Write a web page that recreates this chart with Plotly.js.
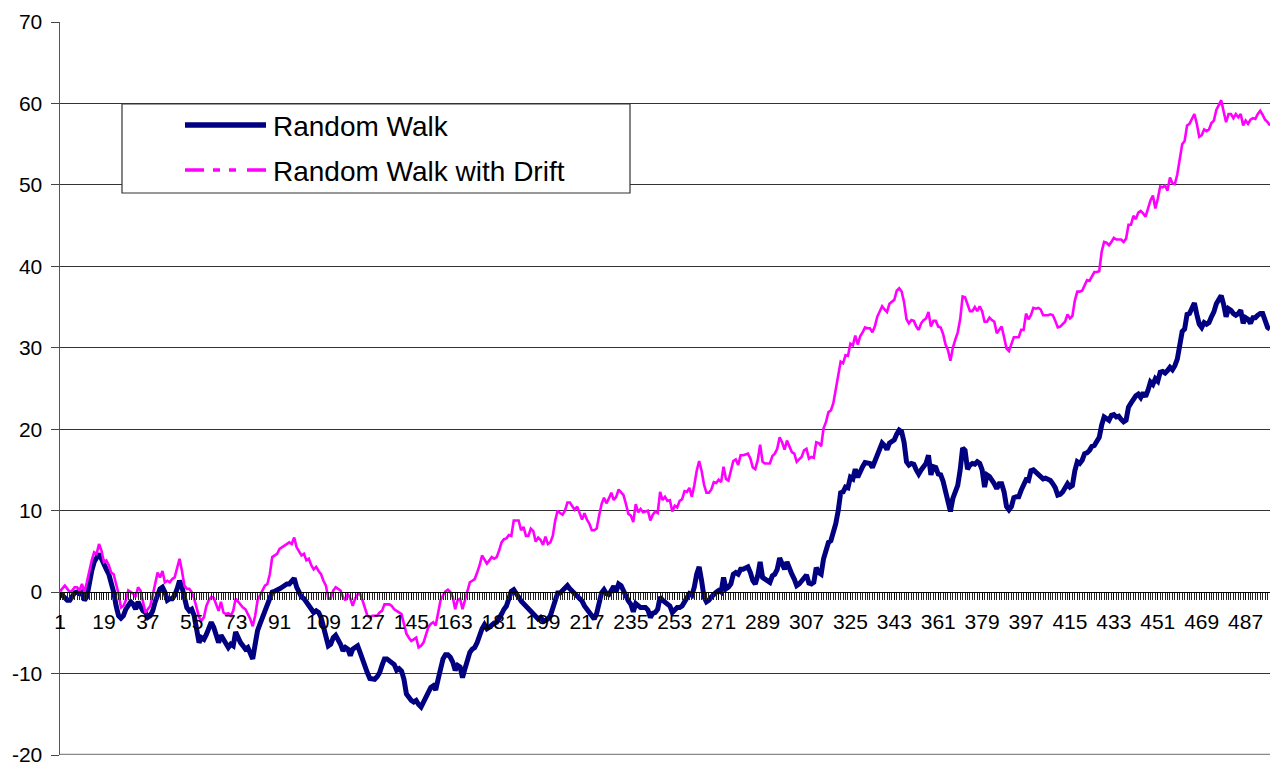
<!DOCTYPE html>
<html>
<head>
<meta charset="utf-8">
<script src="https://cdn.plot.ly/plotly-3.0.1.min.js"></script>
<style>
  html, body { margin: 0; padding: 0; background: #ffffff; }
  #chart { width: 1270px; height: 765px; }
</style>
</head>
<body>
<div id="chart"></div>
<script>
// Series values (one value per category 1..497)
const randomWalk = [
  -0.1,-0.4,-0.8,-1.0,-1.0,-0.6,-0.1,0,-0.2,0,
  -1.0,-0.6,1.2,2.6,3.7,4.3,4.7,4.1,3.3,2.8,
  2.2,1.2,0,-1.7,-2.9,-3.2,-2.9,-2.1,-1.7,-1.2,
  -1.5,-2.1,-1.2,-1.7,-2.3,-2.5,-3.1,-2.9,-2.3,-1.2,
  -0.2,0.4,0.6,0,-1.0,-0.8,-0.8,-0.4,0.4,1.4,
  0.6,-0.8,-1.9,-2.3,-2.1,-2.9,-4.7,-6.2,-5.6,-5.8,
  -5.2,-4.3,-3.7,-4.3,-5.3,-6.2,-5.3,-5.8,-6.4,-6.8,
  -6.4,-6.6,-4.9,-5.6,-6.2,-6.6,-7.0,-6.8,-7.4,-8.2,
  -6.4,-4.7,-3.9,-3.1,-2.3,-1.5,-0.4,0,0.1,0.2,
  0.4,0.6,0.8,1.0,1.0,1.4,1.7,0.6,0,-0.6,
  -0.8,-1.2,-1.5,-2.1,-2.5,-2.3,-2.5,-3.1,-4.1,-5.1,
  -6.6,-6.4,-5.6,-5.3,-5.8,-6.4,-7.2,-6.8,-7.0,-7.8,
  -7.0,-6.8,-6.6,-7.4,-8.4,-9.2,-9.9,-10.6,-10.7,-10.7,
  -10.4,-9.9,-9.0,-8.2,-8.2,-8.4,-8.6,-8.9,-9.6,-9.4,
  -9.7,-10.7,-12.5,-13.0,-13.3,-13.5,-13.3,-13.8,-14.1,-13.5,
  -12.9,-12.3,-11.7,-11.5,-12.0,-10.7,-9.4,-8.2,-7.7,-7.7,
  -8.0,-8.6,-9.6,-9.0,-9.2,-10.5,-9.4,-8.4,-7.4,-7.0,
  -6.8,-6.2,-5.3,-4.5,-4.0,-4.5,-4.3,-4.0,-3.8,-3.7,
  -3.3,-2.7,-2.1,-1.7,-0.8,0.1,0.3,-0.3,-0.6,-1.1,
  -1.4,-1.9,-2.1,-2.3,-2.6,-3.1,-3.3,-3.1,-3.5,-3.5,
  -3.3,-2.9,-1.9,-0.6,-0.1,-0.1,0.2,0.7,0.8,0.4,
  0.1,-0.2,-0.4,-0.6,-1.1,-1.7,-2.1,-2.5,-3.1,-3.3,
  -2.6,-1.4,-0.1,0.3,-0.2,-0.3,0.3,0.7,0.1,1.0,
  0.8,0.1,-0.4,-1.1,-1.5,-2.4,-1.4,-1.7,-1.9,-1.9,
  -1.9,-2.2,-3.1,-2.6,-2.5,-2.1,-0.6,-1.0,-1.2,-1.5,
  -1.7,-2.5,-2.1,-1.9,-1.9,-1.7,-1.2,-0.6,-0.2,-0.4,
  0.6,2.2,3.1,1.4,-0.6,-1.2,-1.0,-0.6,-0.2,0,
  0.2,0,1.8,0.4,0.6,1.0,2.2,2.4,2.2,2.8,
  2.8,3.0,3.1,2.4,1.4,1.0,2.0,3.7,1.8,1.6,
  1.4,1.2,2.0,2.2,2.8,4.2,3.5,2.8,3.7,2.8,
  2.2,1.6,0.8,1.0,1.4,1.8,2.1,1.1,1.0,1.2,
  3.0,2.4,2.2,4.1,5.3,6.1,6.3,7.2,8.4,10.0,
  12.2,12.3,12.9,12.8,14.1,13.9,15.1,14.1,14.9,15.4,
  15.9,15.8,15.8,15.3,16.1,16.9,17.8,18.3,18.0,17.5,
  18.3,18.5,18.7,19.4,19.9,19.7,18.4,16.0,15.6,15.8,
  15.7,15.0,14.5,15.0,15.3,15.8,16.8,14.4,15.4,15.3,
  14.5,14.4,13.6,12.3,11.0,9.9,11.5,12.2,13.1,15.0,
  17.7,17.4,15.1,15.6,15.8,15.7,16.0,15.8,15.0,12.9,
  14.4,14.2,13.8,13.3,12.7,13.3,13.3,12.3,10.5,10.1,
  10.5,11.6,11.7,11.7,12.5,13.3,13.8,13.7,14.9,15.0,
  14.7,14.6,14.1,13.9,14.0,13.8,13.7,13.3,12.8,11.9,
  12.0,12.3,12.9,13.3,12.9,13.1,14.9,16.0,15.8,16.2,
  17.0,17.1,17.4,17.9,18.0,18.6,19.0,20.5,21.5,21.3,
  21.1,21.7,21.8,21.5,21.6,21.2,20.9,21.1,22.7,23.2,
  23.7,24.1,24.3,23.9,24.5,24.0,24.8,25.8,25.5,26.2,
  25.9,27.0,27.1,26.9,27.2,27.6,27.3,27.8,28.6,30.2,
  32.0,32.3,34.1,34.2,34.8,35.5,34.1,32.9,32.5,33.1,
  32.9,33.1,33.8,34.4,35.4,36.0,36.4,35.3,33.8,34.8,
  34.6,34.2,34.0,34.2,34.6,33.0,33.7,33.5,33.0,33.7,
  33.7,34.0,34.2,34.2,33.5,32.5,32.3
];

const randomWalkDrift = [
  0.1,0.4,0.8,0.4,0,0.2,0.6,0.6,0.2,1.0,
  0,1.2,2.6,3.9,4.9,4.7,5.9,5.1,3.7,3.9,
  3.3,2.4,2.2,1.0,-0.2,-1.9,-1.7,-1.0,0.2,0,
  -0.2,-0.6,0.6,0.2,-1.0,-2.5,-2.1,-1.7,-0.4,1.0,
  2.4,1.8,2.6,1.2,1.4,1.2,1.6,1.8,3.1,4.1,
  2.6,0.8,0.4,0.4,0,-0.8,-1.9,-3.1,-3.5,-3.1,
  -1.7,-1.0,-0.6,-0.7,-1.5,-2.3,-1.2,-2.5,-2.7,-2.6,
  -2.9,-2.3,-0.8,-1.2,-1.5,-1.9,-2.1,-2.7,-3.3,-4.2,
  -2.9,-1.0,-0.4,0.4,0.8,1.0,2.2,4.3,4.5,4.7,
  5.3,5.5,5.7,5.9,6.1,5.9,6.7,5.5,4.9,4.5,
  4.7,3.9,4.1,3.3,2.8,3.1,2.6,2.2,1.4,0.8,
  -0.8,-0.8,0.2,0.6,0.4,0.2,-0.6,-1.0,-0.2,-0.8,
  -1.7,-0.8,-0.3,-0.2,-1.0,-2.1,-2.9,-3.1,-2.9,-2.9,
  -2.9,-2.5,-2.3,-1.5,-1.5,-1.5,-1.7,-2.1,-2.3,-2.5,
  -2.7,-3.9,-5.1,-5.6,-6.0,-5.8,-5.6,-6.8,-6.6,-6.2,
  -5.3,-4.3,-3.9,-3.7,-4.1,-2.3,-1.0,-0.4,0.1,0.3,
  0,-0.6,-2.1,-1.0,-0.8,-2.1,-1.0,0.2,1.2,1.4,
  1.6,2.4,3.3,4.5,3.9,3.5,3.9,4.3,4.1,4.3,
  5.1,6.1,6.5,6.6,7.0,6.9,8.8,8.8,8.8,7.6,
  8.0,6.9,6.9,7.8,7.5,6.2,6.7,6.4,5.8,6.8,
  5.9,6.1,6.9,8.8,10.0,9.7,9.5,10.0,11.0,11.0,
  10.5,10.1,10.5,9.8,8.9,9.7,8.9,8.4,7.6,7.6,
  7.8,9.4,10.8,11.6,10.9,11.5,12.2,11.3,11.7,12.6,
  12.2,11.9,10.8,9.6,9.4,8.6,10.8,9.8,10.2,9.8,
  9.9,10.0,8.8,9.5,9.9,9.7,12.3,11.3,11.7,11.2,
  11.3,9.9,10.6,10.4,11.2,11.4,12.4,12.3,12.8,11.7,
  13.1,14.9,16.1,14.9,13.2,12.2,12.2,12.6,13.5,13.4,
  13.8,13.5,15.4,13.9,13.7,14.9,16.1,16.3,15.6,16.8,
  16.8,16.9,17.0,16.4,15.3,15.1,16.2,18.1,16.0,15.8,
  15.8,15.8,16.7,17.0,17.6,19.0,18.4,17.5,18.6,17.9,
  17.2,17.0,16.0,16.3,16.6,17.4,17.6,16.4,16.6,16.5,
  18.4,18.3,17.9,20.1,20.9,22.1,22.3,23.2,24.8,26.4,
  28.3,28.1,29.1,29.0,30.5,30.3,31.5,30.4,31.4,31.9,
  32.5,32.4,32.4,31.9,32.6,33.8,34.5,35.1,34.7,34.4,
  35.4,35.7,35.9,37.0,37.3,36.9,35.6,33.5,33.0,33.4,
  33.3,32.6,32.2,33.0,33.4,33.6,34.4,32.6,33.3,33.3,
  32.6,32.5,31.7,30.4,29.7,28.4,30.0,31.0,31.9,33.5,
  36.3,36.2,35.2,34.5,34.5,35.0,34.5,35.1,34.5,33.2,
  33.2,33.7,33.4,33.2,31.8,32.2,32.6,31.3,29.9,29.6,
  30.4,31.3,31.3,31.3,32.2,32.2,34.2,33.5,34.0,34.9,
  34.8,34.9,34.7,34.0,34.0,34.0,34.1,34.0,33.3,32.5,
  32.6,32.9,33.2,34.1,33.6,33.9,35.8,36.9,36.9,37.0,
  37.7,38.3,38.2,38.8,39.3,39.3,39.4,41.8,43.0,42.9,
  42.6,43.0,43.5,43.3,43.3,43.3,43.0,43.4,45.1,45.1,
  46.2,45.8,46.6,46.8,46.5,46.1,47.1,48.1,48.7,47.1,
  48.3,49.8,49.7,49.9,49.3,50.9,50.2,50.1,51.3,52.9,
  55.0,55.4,57.3,57.5,58.1,58.7,57.5,55.9,56.1,56.8,
  56.6,56.8,57.6,57.9,59.2,59.9,60.4,59.0,57.7,58.7,
  58.7,58.2,58.7,58.3,58.7,57.3,57.9,57.5,58.0,58.2,
  58.1,58.7,59.1,58.6,58.0,57.7,57.3
];

const xTickValues = [1,19,37,55,73,91,109,127,145,163,181,199,217,235,253,271,289,307,325,343,361,379,397,415,433,451,469,487];
const xTickLabels = ['1','19','37','55','73','91','109','127','145','163','181','199','217','235','253','271','289','307','325','343','361','379','397','415','433','451','469','487'];
const yTickValues = [-20,-10,0,10,20,30,40,50,60,70];
const yTickLabels = ['-20','-10','0','10','20','30','40','50','60','70'];
const seriesNames = ['Random Walk', 'Random Walk with Drift'];

const categories = randomWalk.map((_, i) => i + 1);
const FONT = 'Liberation Sans, Arial, Helvetica, sans-serif';

const traces = [
  { x: categories, y: randomWalk, type: 'scatter', mode: 'lines', name: seriesNames[0],
    line: { color: '#000080', width: 5 }, showlegend: false, hoverinfo: 'skip' },
  { x: categories, y: randomWalkDrift, type: 'scatter', mode: 'lines', name: seriesNames[1],
    line: { color: '#ff00ff', width: 2.6 }, showlegend: false, hoverinfo: 'skip' }
];

// plot area: x 60..1270, y 22..755 (pixels)
const px = v => (v - 60) / 1210;
const py = v => (755 - v) / 733;

const layout = {
  width: 1270, height: 765,
  margin: { l: 60, r: 0, t: 22, b: 10, pad: 0 },
  paper_bgcolor: '#ffffff', plot_bgcolor: '#ffffff',
  font: { family: FONT, color: '#000000', size: 21 },
  showlegend: false,
  xaxis: {
    range: [1, 497], anchor: 'free', position: 20 / 90,
    showgrid: false, zeroline: false,
    showline: true, linecolor: '#000000', linewidth: 1,
    tickmode: 'array', tickvals: xTickValues, ticktext: xTickLabels,
    ticks: 'outside', ticklen: 7, tickwidth: 1, tickcolor: '#000000',
    tickfont: { family: FONT, size: 21, color: '#000000' },
    ticklabelstandoff: 4, ticklabeloverflow: 'allow',
    minor: { dtick: 1, tick0: 1, ticks: 'outside', ticklen: 7, tickwidth: 1, tickcolor: '#222222', showgrid: false }
  },
  yaxis: {
    range: [-20, 70],
    tickmode: 'array', tickvals: yTickValues, ticktext: yTickLabels,
    showgrid: true, gridcolor: '#333333', gridwidth: 1,
    zeroline: false,
    showline: true, linecolor: '#555555', linewidth: 1.5,
    ticks: 'outside', ticklen: 8, tickwidth: 1, tickcolor: '#444444',
    tickfont: { family: FONT, size: 21, color: '#000000' },
    ticklabelstandoff: 4, ticklabeloverflow: 'allow'
  },
  shapes: [
    { type: 'line', xref: 'paper', yref: 'y', x0: 0, x1: 1, y0: -20, y1: -20,
      line: { color: '#8a8a8a', width: 2.5 } },
    { type: 'rect', xref: 'paper', yref: 'paper', x0: px(122), x1: px(630), y0: py(193), y1: py(104),
      line: { color: '#333333', width: 1.2 }, fillcolor: '#ffffff', layer: 'above' },
    { type: 'line', xref: 'paper', yref: 'paper', x0: px(185), x1: px(266), y0: py(125), y1: py(125),
      line: { color: '#000080', width: 5.5 }, layer: 'above' },
    { type: 'line', xref: 'paper', yref: 'paper', x0: px(185), x1: px(268), y0: py(170), y1: py(170),
      line: { color: '#ff00ff', width: 3.5, dash: '19px,9px,7px,9px,7px,11px' }, layer: 'above' }
  ],
  annotations: [
    { xref: 'paper', yref: 'paper', x: px(271), y: py(126), xanchor: 'left', yanchor: 'middle',
      text: seriesNames[0], showarrow: false, font: { family: FONT, size: 28, color: '#000000' } },
    { xref: 'paper', yref: 'paper', x: px(271), y: py(171), xanchor: 'left', yanchor: 'middle',
      text: seriesNames[1], showarrow: false, font: { family: FONT, size: 28, color: '#000000' } }
  ]
};

Plotly.newPlot('chart', traces, layout, { staticPlot: true, displayModeBar: false });
</script>
</body>
</html>
